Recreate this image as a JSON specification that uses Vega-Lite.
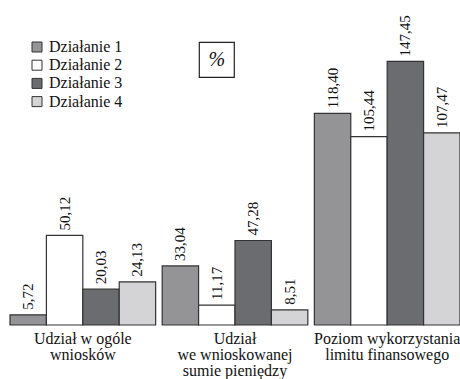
{
  "$schema": "https://vega.github.io/schema/vega-lite/v6.json",
  "width": 450,
  "height": 286,
  "autosize": {"type": "none"},
  "padding": {"left": 10, "top": 39, "right": 0, "bottom": 54},
  "background": "white",
  "config": {
    "view": {"stroke": null},
    "locale": {"number": {"decimal": ",", "thousands": " ", "grouping": [3], "currency": ["", " zł"]}},
    "font": "Liberation Serif"
  },
  "datasets": {
    "bars": [
      {"group": "Udział w ogóle|wniosków", "series": "Działanie 1", "value": 5.72},
      {"group": "Udział w ogóle|wniosków", "series": "Działanie 2", "value": 50.12},
      {"group": "Udział w ogóle|wniosków", "series": "Działanie 3", "value": 20.03},
      {"group": "Udział w ogóle|wniosków", "series": "Działanie 4", "value": 24.13},
      {"group": "Udział|we wnioskowanej|sumie pieniędzy", "series": "Działanie 1", "value": 33.04},
      {"group": "Udział|we wnioskowanej|sumie pieniędzy", "series": "Działanie 2", "value": 11.17},
      {"group": "Udział|we wnioskowanej|sumie pieniędzy", "series": "Działanie 3", "value": 47.28},
      {"group": "Udział|we wnioskowanej|sumie pieniędzy", "series": "Działanie 4", "value": 8.51},
      {"group": "Poziom wykorzystania|limitu finansowego", "series": "Działanie 1", "value": 118.40},
      {"group": "Poziom wykorzystania|limitu finansowego", "series": "Działanie 2", "value": 105.44},
      {"group": "Poziom wykorzystania|limitu finansowego", "series": "Działanie 3", "value": 147.45},
      {"group": "Poziom wykorzystania|limitu finansowego", "series": "Działanie 4", "value": 107.47}
    ],
    "unit": [
      {"group": "Udział|we wnioskowanej|sumie pieniędzy", "series": "Działanie 2", "value": 148.3, "label": "%"}
    ]
  },
  "encoding": {
    "x": {
      "field": "group", "type": "nominal", "sort": null,
      "scale": {"paddingInner": 0.043, "paddingOuter": 0},
      "axis": {
        "title": null, "domain": false, "ticks": false, "labelAngle": 0,
        "labelExpr": "split(datum.value, '|')",
        "labelFont": "Liberation Serif", "labelFontSize": 16, "labelColor": "#111",
        "labelLineHeight": 16, "labelPadding": 18, "labelBaseline": "alphabetic"
      }
    },
    "xOffset": {"field": "series", "type": "nominal", "scale": {"paddingInner": 0, "paddingOuter": 0}},
    "y": {"field": "value", "type": "quantitative", "scale": {"domain": [0, 160], "nice": false}, "axis": null}
  },
  "layer": [
    {
      "data": {"name": "bars"},
      "mark": {"type": "bar", "stroke": "#333", "strokeWidth": 1.2},
      "encoding": {
        "color": {
          "field": "series", "type": "nominal",
          "scale": {"domain": ["Działanie 1", "Działanie 2", "Działanie 3", "Działanie 4"], "range": ["#949497", "#ffffff", "#6b6c70", "#d4d4d6"]},
          "legend": {
            "title": null, "orient": "none", "legendX": 19, "legendY": 0, "padding": 0,
            "symbolType": "square", "symbolSize": 100, "symbolStrokeColor": "#333", "symbolStrokeWidth": 1,
            "labelFont": "Liberation Serif", "labelFontSize": 16, "labelColor": "#111", "labelOffset": 4,
            "rowPadding": 2.2
          }
        }
      }
    },
    {
      "data": {"name": "bars"},
      "mark": {"type": "text", "angle": 270, "align": "left", "baseline": "middle", "dx": 5, "font": "Liberation Serif", "fontSize": 15, "color": "#111"},
      "encoding": {"text": {"field": "value", "type": "quantitative", "format": ".2f"}}
    },
    {
      "data": {"name": "unit"},
      "mark": {"type": "point", "shape": "square", "size": 1225, "filled": false, "stroke": "#222", "strokeWidth": 1.2, "opacity": 1},
      "encoding": {"xOffset": {"field": "series", "type": "nominal", "bandPosition": 0.62}}
    },
    {
      "data": {"name": "unit"},
      "mark": {"type": "text", "font": "Liberation Serif", "fontStyle": "italic", "fontSize": 20, "baseline": "middle", "align": "center", "color": "#111"},
      "encoding": {"text": {"field": "label"}, "xOffset": {"field": "series", "type": "nominal", "bandPosition": 0.62}}
    }
  ]
}
